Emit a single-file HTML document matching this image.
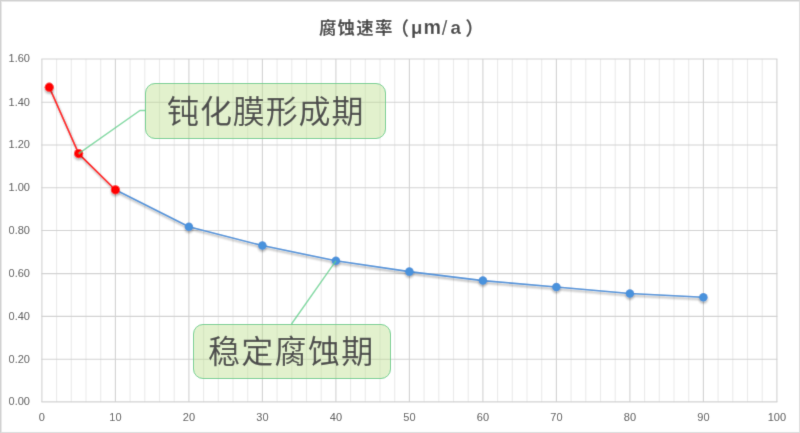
<!DOCTYPE html>
<html><head><meta charset="utf-8">
<style>
html,body{margin:0;padding:0;background:#fff;}
body{width:800px;height:433px;overflow:hidden;position:relative;}
.wrap{position:absolute;left:0;top:0;width:800px;height:433px;background:#fff;filter:url(#soft);}
.frame{position:absolute;left:0;top:0;width:798px;height:431px;border:1px solid #d0d0d0;border-right-color:#dedede;border-bottom-color:#dcdcdc;box-shadow:inset 1px 1px 0 #e8e8e8;}
svg{position:absolute;left:0;top:0;will-change:transform;}
.ax text{font-family:"Liberation Sans","Noto Sans CJK SC",sans-serif;font-size:11px;fill:#4f4f4f;}
.tt{font-family:"Liberation Sans","Noto Sans CJK SC",sans-serif;font-weight:bold;font-size:18.67px;fill:#4a4a4a;}
.box{position:absolute;box-sizing:border-box;border:1.4px solid #6ccf8e;border-radius:10px;background:rgba(186,222,136,0.42);}
.bt{position:absolute;font-family:"Liberation Sans","Noto Sans CJK SC",sans-serif;font-size:32px;color:#4d4d4d;white-space:nowrap;letter-spacing:0.9px;line-height:40px;will-change:transform;}
</style></head><body>
<svg width="0" height="0" style="position:absolute"><filter id="soft" x="0" y="0" width="100%" height="100%"><feConvolveMatrix order="3" kernelMatrix="0.0115 0.0841 0.0115 0.0841 0.6176 0.0841 0.0115 0.0841 0.0115" edgeMode="duplicate" preserveAlpha="false"/></filter></svg>
<div class="wrap">
<div class="frame"></div>
<svg width="800" height="433" viewBox="0 0 800 433">
<defs>
<filter id="sh" x="-10%" y="-10%" width="120%" height="130%">
<feGaussianBlur in="SourceAlpha" stdDeviation="1.2"/>
<feOffset dx="0.5" dy="1.5" result="b"/>
<feComponentTransfer><feFuncA type="linear" slope="0.35"/></feComponentTransfer>
<feMerge><feMergeNode/><feMergeNode in="SourceGraphic"/></feMerge>
</filter>
<filter id="sh2" x="-20%" y="-20%" width="140%" height="140%">
<feGaussianBlur in="SourceAlpha" stdDeviation="1.2"/>
<feOffset dx="0" dy="1.5" result="b"/>
<feComponentTransfer><feFuncA type="linear" slope="0.3"/></feComponentTransfer>
<feMerge><feMergeNode/><feMergeNode in="SourceGraphic"/></feMerge>
</filter>
</defs>
<line x1="56.60" y1="58.96" x2="56.60" y2="401.9" stroke="#ebebeb" stroke-width="1.1"/>
<line x1="71.30" y1="58.96" x2="71.30" y2="401.9" stroke="#ebebeb" stroke-width="1.1"/>
<line x1="86.00" y1="58.96" x2="86.00" y2="401.9" stroke="#ebebeb" stroke-width="1.1"/>
<line x1="100.70" y1="58.96" x2="100.70" y2="401.9" stroke="#ebebeb" stroke-width="1.1"/>
<line x1="130.10" y1="58.96" x2="130.10" y2="401.9" stroke="#ebebeb" stroke-width="1.1"/>
<line x1="144.80" y1="58.96" x2="144.80" y2="401.9" stroke="#ebebeb" stroke-width="1.1"/>
<line x1="159.50" y1="58.96" x2="159.50" y2="401.9" stroke="#ebebeb" stroke-width="1.1"/>
<line x1="174.20" y1="58.96" x2="174.20" y2="401.9" stroke="#ebebeb" stroke-width="1.1"/>
<line x1="203.60" y1="58.96" x2="203.60" y2="401.9" stroke="#ebebeb" stroke-width="1.1"/>
<line x1="218.30" y1="58.96" x2="218.30" y2="401.9" stroke="#ebebeb" stroke-width="1.1"/>
<line x1="233.00" y1="58.96" x2="233.00" y2="401.9" stroke="#ebebeb" stroke-width="1.1"/>
<line x1="247.70" y1="58.96" x2="247.70" y2="401.9" stroke="#ebebeb" stroke-width="1.1"/>
<line x1="277.10" y1="58.96" x2="277.10" y2="401.9" stroke="#ebebeb" stroke-width="1.1"/>
<line x1="291.80" y1="58.96" x2="291.80" y2="401.9" stroke="#ebebeb" stroke-width="1.1"/>
<line x1="306.50" y1="58.96" x2="306.50" y2="401.9" stroke="#ebebeb" stroke-width="1.1"/>
<line x1="321.20" y1="58.96" x2="321.20" y2="401.9" stroke="#ebebeb" stroke-width="1.1"/>
<line x1="350.60" y1="58.96" x2="350.60" y2="401.9" stroke="#ebebeb" stroke-width="1.1"/>
<line x1="365.30" y1="58.96" x2="365.30" y2="401.9" stroke="#ebebeb" stroke-width="1.1"/>
<line x1="380.00" y1="58.96" x2="380.00" y2="401.9" stroke="#ebebeb" stroke-width="1.1"/>
<line x1="394.70" y1="58.96" x2="394.70" y2="401.9" stroke="#ebebeb" stroke-width="1.1"/>
<line x1="424.10" y1="58.96" x2="424.10" y2="401.9" stroke="#ebebeb" stroke-width="1.1"/>
<line x1="438.80" y1="58.96" x2="438.80" y2="401.9" stroke="#ebebeb" stroke-width="1.1"/>
<line x1="453.50" y1="58.96" x2="453.50" y2="401.9" stroke="#ebebeb" stroke-width="1.1"/>
<line x1="468.20" y1="58.96" x2="468.20" y2="401.9" stroke="#ebebeb" stroke-width="1.1"/>
<line x1="497.60" y1="58.96" x2="497.60" y2="401.9" stroke="#ebebeb" stroke-width="1.1"/>
<line x1="512.30" y1="58.96" x2="512.30" y2="401.9" stroke="#ebebeb" stroke-width="1.1"/>
<line x1="527.00" y1="58.96" x2="527.00" y2="401.9" stroke="#ebebeb" stroke-width="1.1"/>
<line x1="541.70" y1="58.96" x2="541.70" y2="401.9" stroke="#ebebeb" stroke-width="1.1"/>
<line x1="571.10" y1="58.96" x2="571.10" y2="401.9" stroke="#ebebeb" stroke-width="1.1"/>
<line x1="585.80" y1="58.96" x2="585.80" y2="401.9" stroke="#ebebeb" stroke-width="1.1"/>
<line x1="600.50" y1="58.96" x2="600.50" y2="401.9" stroke="#ebebeb" stroke-width="1.1"/>
<line x1="615.20" y1="58.96" x2="615.20" y2="401.9" stroke="#ebebeb" stroke-width="1.1"/>
<line x1="644.60" y1="58.96" x2="644.60" y2="401.9" stroke="#ebebeb" stroke-width="1.1"/>
<line x1="659.30" y1="58.96" x2="659.30" y2="401.9" stroke="#ebebeb" stroke-width="1.1"/>
<line x1="674.00" y1="58.96" x2="674.00" y2="401.9" stroke="#ebebeb" stroke-width="1.1"/>
<line x1="688.70" y1="58.96" x2="688.70" y2="401.9" stroke="#ebebeb" stroke-width="1.1"/>
<line x1="718.10" y1="58.96" x2="718.10" y2="401.9" stroke="#ebebeb" stroke-width="1.1"/>
<line x1="732.80" y1="58.96" x2="732.80" y2="401.9" stroke="#ebebeb" stroke-width="1.1"/>
<line x1="747.50" y1="58.96" x2="747.50" y2="401.9" stroke="#ebebeb" stroke-width="1.1"/>
<line x1="762.20" y1="58.96" x2="762.20" y2="401.9" stroke="#ebebeb" stroke-width="1.1"/>
<line x1="41.4" y1="401.9" x2="777.40" y2="401.9" stroke="#d2d2d2" stroke-width="1.1"/>
<line x1="41.4" y1="359.2" x2="777.40" y2="359.2" stroke="#d2d2d2" stroke-width="1.1"/>
<line x1="41.4" y1="316.4" x2="777.40" y2="316.4" stroke="#d2d2d2" stroke-width="1.1"/>
<line x1="41.4" y1="273.6" x2="777.40" y2="273.6" stroke="#d2d2d2" stroke-width="1.1"/>
<line x1="41.4" y1="230.5" x2="777.40" y2="230.5" stroke="#d2d2d2" stroke-width="1.1"/>
<line x1="41.4" y1="187.7" x2="777.40" y2="187.7" stroke="#d2d2d2" stroke-width="1.1"/>
<line x1="41.4" y1="145.0" x2="777.40" y2="145.0" stroke="#d2d2d2" stroke-width="1.1"/>
<line x1="41.4" y1="102.2" x2="777.40" y2="102.2" stroke="#d2d2d2" stroke-width="1.1"/>
<line x1="41.4" y1="58.96" x2="777.40" y2="58.96" stroke="#d2d2d2" stroke-width="1.1"/>
<line x1="41.90" y1="58.96" x2="41.90" y2="401.9" stroke="#d2d2d2" stroke-width="1.1"/>
<line x1="115.40" y1="58.96" x2="115.40" y2="401.9" stroke="#d2d2d2" stroke-width="1.1"/>
<line x1="188.90" y1="58.96" x2="188.90" y2="401.9" stroke="#d2d2d2" stroke-width="1.1"/>
<line x1="262.40" y1="58.96" x2="262.40" y2="401.9" stroke="#d2d2d2" stroke-width="1.1"/>
<line x1="335.90" y1="58.96" x2="335.90" y2="401.9" stroke="#d2d2d2" stroke-width="1.1"/>
<line x1="409.40" y1="58.96" x2="409.40" y2="401.9" stroke="#d2d2d2" stroke-width="1.1"/>
<line x1="482.90" y1="58.96" x2="482.90" y2="401.9" stroke="#d2d2d2" stroke-width="1.1"/>
<line x1="556.40" y1="58.96" x2="556.40" y2="401.9" stroke="#d2d2d2" stroke-width="1.1"/>
<line x1="629.90" y1="58.96" x2="629.90" y2="401.9" stroke="#d2d2d2" stroke-width="1.1"/>
<line x1="703.40" y1="58.96" x2="703.40" y2="401.9" stroke="#d2d2d2" stroke-width="1.1"/>
<line x1="776.90" y1="58.96" x2="776.90" y2="401.9" stroke="#d2d2d2" stroke-width="1.1"/>
<g class="ax">
<text x="30" y="405.3" text-anchor="end">0.00</text>
<text x="30" y="362.6" text-anchor="end">0.20</text>
<text x="30" y="319.8" text-anchor="end">0.40</text>
<text x="30" y="277.0" text-anchor="end">0.60</text>
<text x="30" y="233.9" text-anchor="end">0.80</text>
<text x="30" y="191.1" text-anchor="end">1.00</text>
<text x="30" y="148.4" text-anchor="end">1.20</text>
<text x="30" y="105.6" text-anchor="end">1.40</text>
<text x="30" y="62.4" text-anchor="end">1.60</text>
<text x="41.9" y="421" text-anchor="middle">0</text>
<text x="115.4" y="421" text-anchor="middle">10</text>
<text x="188.9" y="421" text-anchor="middle">20</text>
<text x="262.4" y="421" text-anchor="middle">30</text>
<text x="335.9" y="421" text-anchor="middle">40</text>
<text x="409.4" y="421" text-anchor="middle">50</text>
<text x="482.9" y="421" text-anchor="middle">60</text>
<text x="556.4" y="421" text-anchor="middle">70</text>
<text x="629.9" y="421" text-anchor="middle">80</text>
<text x="703.4" y="421" text-anchor="middle">90</text>
<text x="776.9" y="421" text-anchor="middle">100</text>
</g>
<polyline points="115.40,189.84 188.90,226.72 262.40,245.59 335.90,260.81 409.40,271.62 482.90,280.60 556.40,286.99 629.90,293.46 703.40,297.30" fill="none" stroke="#4d93da" stroke-width="1.6" stroke-linejoin="round" filter="url(#sh)"/>
<polyline points="49.25,87.15 78.65,153.61 115.40,189.84" fill="none" stroke="#ff0000" stroke-width="1.6" stroke-linejoin="round" filter="url(#sh)"/>
<g filter="url(#sh2)">
<circle cx="188.90" cy="226.72" r="4.25" fill="#4a92dc"/>
<circle cx="262.40" cy="245.59" r="4.25" fill="#4a92dc"/>
<circle cx="335.90" cy="260.81" r="4.25" fill="#4a92dc"/>
<circle cx="409.40" cy="271.62" r="4.25" fill="#4a92dc"/>
<circle cx="482.90" cy="280.60" r="4.25" fill="#4a92dc"/>
<circle cx="556.40" cy="286.99" r="4.25" fill="#4a92dc"/>
<circle cx="629.90" cy="293.46" r="4.25" fill="#4a92dc"/>
<circle cx="703.40" cy="297.30" r="4.25" fill="#4a92dc"/>
</g>
<g filter="url(#sh2)">
<circle cx="49.25" cy="87.15" r="4.6" fill="#ff0000"/>
<circle cx="78.65" cy="153.61" r="4.6" fill="#ff0000"/>
<circle cx="115.40" cy="189.84" r="4.6" fill="#ff0000"/>
</g>
<polyline points="78.65,153.61 140,110.5 145.5,110.5" fill="none" stroke="#5fcf8a" stroke-opacity="0.78" stroke-width="1.5"/>
<line x1="335.90" y1="260.81" x2="291.5" y2="324" stroke="#5fcf8a" stroke-opacity="0.78" stroke-width="1.5"/>
<text class="tt" y="34.2"><tspan style="font-size:17.4px" x="318.9 337.6 356.2 374.9">腐蚀速率</tspan><tspan x="390.6" dy="0.6">（</tspan><tspan x="411" dy="-0.6">μ</tspan><tspan x="423.6" style="font-size:19.6px">m</tspan><tspan x="441.8" dy="0.4" style="font-weight:normal;font-size:20px">/</tspan><tspan x="450.5" dy="-0.4">a</tspan><tspan x="465.2" dy="0.6">）</tspan></text>
</svg>
<div class="box" style="left:144.8px;top:82.7px;width:241.3px;height:56px;"></div>
<div class="box" style="left:192.8px;top:323.6px;width:198.5px;height:55.6px;"></div>
<div class="bt" style="left:166.7px;top:91.8px;">钝化膜形成期</div>
<div class="bt" style="left:207.8px;top:332.3px;letter-spacing:1.3px;">稳定腐蚀期</div>
</div></body></html>
